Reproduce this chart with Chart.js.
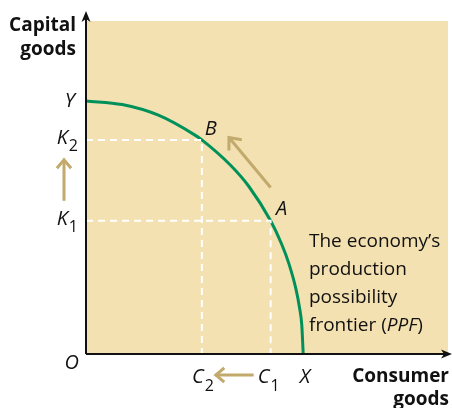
<!DOCTYPE html>
<html>
<head>
<meta charset="utf-8">
<script src="https://cdn.jsdelivr.net/npm/chart.js@4"></script>
<style>
  html, body { margin: 0; padding: 0; background: #fff; }
  #wrap { width: 452px; height: 408px; }
</style>
</head>
<body>
<div id="wrap"><canvas id="ppfChart" width="452" height="408"></canvas></div>
<script>
// PPF curve (units: 0-100 on both axes)
const ppfX = [0, 10, 20, 30, 32, 40, 45, 51, 54, 56, 58, 59, 59.6, 60];
const ppfY = [76, 74.9, 71.7, 65.8, 64.3, 56.6, 50.3, 40, 33.1, 27.3, 19.5, 13.8, 8.8, 0];

// points on the frontier
const pointB = { x: 32, y: 64.3 };
const pointA = { x: 51, y: 40 };

// axis labels
const yTickLabels = ["Y", "K2", "K1"];
const xTickLabels = ["O", "C2", "C1", "X"];
const yAxisTitle = ["Capital", "goods"];
const xAxisTitle = ["Consumer", "goods"];
const noteLines = ["The economy\u2019s", "production", "possibility", "frontier (PPF)"];

// movement arrow along the frontier, A towards B
const moveFrom = { x: 51, y: 50 };
const moveTo = { x: 39.5, y: 65 };

const tan = "#f4e1b1";
const green = "#00915a";
const arrowTan = "#c2a96c";

var curve = [];
for (i = 0; i < ppfX.length; i++) {
  curve.push({ x: ppfX[i], y: ppfY[i] });
}

function drawArrow(c, x1, y1, x2, y2, head) {
  const ang = Math.atan2(y2 - y1, x2 - x1);
  c.beginPath();
  c.moveTo(x1, y1);
  c.lineTo(x2, y2);
  c.stroke();
  c.beginPath();
  c.moveTo(x2 - head * Math.cos(ang - 0.7), y2 - head * Math.sin(ang - 0.7));
  c.lineTo(x2, y2);
  c.lineTo(x2 - head * Math.cos(ang + 0.7), y2 - head * Math.sin(ang + 0.7));
  c.stroke();
}

// letter with a subscript digit, right edge at x
function subLabel(c, txt, x, y) {
  const main = txt[0], sub = txt.slice(1);
  c.font = "italic 20px 'Open Sans'";
  const w1 = c.measureText(main).width;
  c.font = "16px 'Open Sans'";
  const w2 = sub ? c.measureText(sub).width : 0;
  const left = x - w1 - w2;
  c.textAlign = "left";
  c.textBaseline = "middle";
  c.font = "italic 20px 'Open Sans'";
  c.fillText(main, left, y);
  if (sub) {
    c.font = "16px 'Open Sans'";
    c.fillText(sub, left + w1 + 1, y + 9);
  }
}

const backgroundPlugin = {
  id: "bg",
  beforeDraw(chart) {
    const { ctx, chartArea } = chart;
    ctx.save();
    ctx.fillStyle = tan;
    ctx.fillRect(chartArea.left, chartArea.top, chartArea.right - chartArea.left, chartArea.bottom - chartArea.top);
    ctx.restore();
  },
};

const decorPlugin = {
  id: "decor",
  afterDraw(chart) {
    const { ctx } = chart;
    const xs = chart.scales.x, ys = chart.scales.y;
    const x0 = xs.getPixelForValue(0), y0 = ys.getPixelForValue(0);
    ctx.save();

    // axes with arrow heads
    ctx.strokeStyle = "#111";
    ctx.fillStyle = "#111";
    ctx.lineWidth = 2;
    ctx.beginPath();
    ctx.moveTo(x0, y0);
    ctx.lineTo(x0, 16);
    ctx.moveTo(x0, y0);
    ctx.lineTo(448, y0);
    ctx.stroke();
    ctx.beginPath();
    ctx.moveTo(x0, 11);
    ctx.lineTo(x0 - 4.5, 22);
    ctx.lineTo(x0, 19);
    ctx.lineTo(x0 + 4.5, 22);
    ctx.closePath();
    ctx.fill();
    ctx.beginPath();
    ctx.moveTo(452, y0);
    ctx.lineTo(441, y0 - 4.5);
    ctx.lineTo(444, y0);
    ctx.lineTo(441, y0 + 4.5);
    ctx.closePath();
    ctx.fill();

    // tan movement arrows
    ctx.strokeStyle = arrowTan;
    ctx.lineWidth = 3;
    ctx.lineCap = "butt";
    const k1 = ys.getPixelForValue(pointA.y), k2 = ys.getPixelForValue(pointB.y);
    drawArrow(ctx, 64, k1 - 20, 64, k2 + 20, 11);
    const c1 = xs.getPixelForValue(pointA.x), c2 = xs.getPixelForValue(pointB.x);
    drawArrow(ctx, c1 - 17, y0 + 21, c2 + 14, y0 + 21, 11);
    drawArrow(ctx, xs.getPixelForValue(moveFrom.x), ys.getPixelForValue(moveFrom.y),
      xs.getPixelForValue(moveTo.x), ys.getPixelForValue(moveTo.y), 13);

    // axis titles
    ctx.fillStyle = "#111";
    ctx.font = "bold 19px 'Open Sans'";
    ctx.textAlign = "right";
    ctx.textBaseline = "middle";
    ctx.fillText(yAxisTitle[0], 76, 26);
    ctx.fillText(yAxisTitle[1], 76, 50);
    ctx.fillText(xAxisTitle[0], 449, 377);
    ctx.fillText(xAxisTitle[1], 449, 400);

    // tick labels
    subLabel(ctx, yTickLabels[0], 75, ys.getPixelForValue(ppfY[0]));
    subLabel(ctx, yTickLabels[1], 77, k2 - 2);
    subLabel(ctx, yTickLabels[2], 77, k1 - 2);
    subLabel(ctx, xTickLabels[0], 79, y0 + 9);
    subLabel(ctx, xTickLabels[1], c2 + 11, y0 + 23);
    subLabel(ctx, xTickLabels[2], c1 + 8, y0 + 23);
    subLabel(ctx, xTickLabels[3], xs.getPixelForValue(ppfX[ppfX.length - 1]) + 7, y0 + 23);

    // point labels
    ctx.textAlign = "center";
    ctx.font = "italic 20px 'Open Sans'";
    ctx.fillText("B", xs.getPixelForValue(pointB.x) + 9, ys.getPixelForValue(pointB.y) - 11);
    ctx.fillText("A", xs.getPixelForValue(pointA.x) + 11, ys.getPixelForValue(pointA.y) - 12);

    // note
    ctx.textAlign = "left";
    ctx.font = "19px 'Open Sans'";
    const nx = 309;
    for (let i = 0; i < noteLines.length; i++) {
      const y = 242 + i * 28;
      const line = noteLines[i];
      const p = line.indexOf("PPF");
      if (p < 0) {
        ctx.fillText(line, nx, y);
      } else {
        const a = line.slice(0, p), b = "PPF", c = line.slice(p + 3);
        ctx.fillText(a, nx, y);
        let w = ctx.measureText(a).width;
        ctx.font = "italic 19px 'Open Sans'";
        ctx.fillText(b, nx + w, y);
        w += ctx.measureText(b).width;
        ctx.font = "19px 'Open Sans'";
        ctx.fillText(c, nx + w, y);
      }
    }
    ctx.restore();
  },
};

const dash = {
  borderColor: "#ffffff",
  borderWidth: 2,
  borderDash: [7, 5],
  pointRadius: 0,
  showLine: true,
  fill: false,
};

const chart = new Chart(document.getElementById("ppfChart"), {
  type: "scatter",
  data: {
    datasets: [
      Object.assign({ data: [{ x: 0, y: pointB.y }, pointB, { x: pointB.x, y: 0 }] }, dash),
      Object.assign({ data: [{ x: 0, y: pointA.y }, pointA, { x: pointA.x, y: 0 }] }, dash),
      {
        label: "PPF",
        data: curve,
        showLine: true,
        borderColor: green,
        borderWidth: 3,
        pointRadius: 0,
        cubicInterpolationMode: "monotone",
        fill: false,
      },
    ],
  },
  options: {
    responsive: false,
    animation: false,
    layout: { padding: { left: 86, top: 21, right: 4, bottom: 54 } },
    plugins: { legend: { display: false }, tooltip: { enabled: false } },
    scales: {
      x: { min: 0, max: 100, display: false },
      y: { min: 0, max: 100, display: false },
    },
  },
  plugins: [backgroundPlugin, decorPlugin],
});
</script>
</body>
</html>
